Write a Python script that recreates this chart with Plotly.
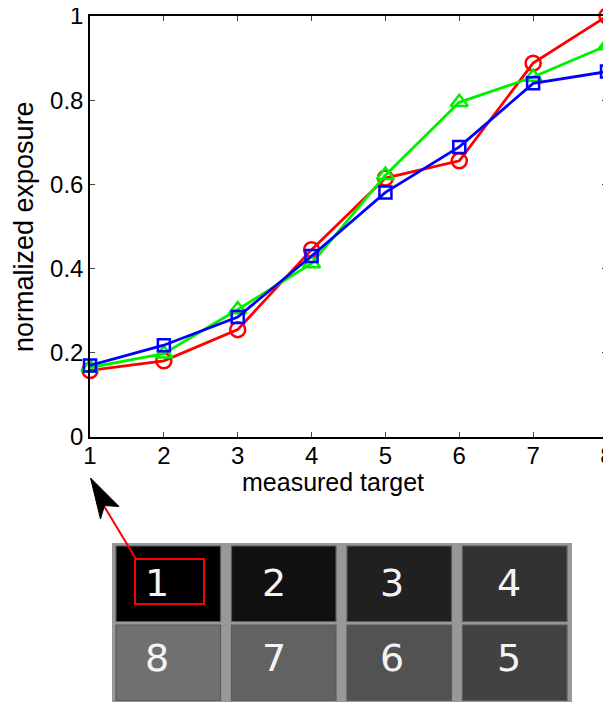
import plotly.graph_objects as go

# ---------------- data ----------------
targets = [1, 2, 3, 4, 5, 6, 7, 8]
series_red = [0.158, 0.181, 0.255, 0.445, 0.615, 0.656, 0.888, 1.0]
series_green = [0.165, 0.198, 0.303, 0.412, 0.622, 0.795, 0.855, 0.930]
series_blue = [0.170, 0.218, 0.285, 0.430, 0.581, 0.689, 0.840, 0.868]
y_ticks = [0, 0.2, 0.4, 0.6, 0.8, 1]
y_tick_labels = ["0", "0.2", "0.4", "0.6", "0.8", "1"]

# tile illustration: labels and gray levels (row 1 then row 2)
tile_labels_top = ["1", "2", "3", "4"]
tile_labels_bottom = ["8", "7", "6", "5"]
tile_gray_top = [0, 16, 32, 50]
tile_gray_bottom = [112, 98, 82, 66]

# page body has an 8px margin; figure sized so it fits the window
OFF = 8
W, H = 611 - OFF, 702 - OFF
L, T = 90 - OFF, 16 - OFF
PW, PH = 517, 421
R = W - L - PW
B = H - T - PH


def px(x):
    """reference-window pixel x -> paper coordinate"""
    return (x - OFF - L) / PW


def py(y):
    """reference-window pixel y -> paper coordinate"""
    return (T + PH - (y - OFF)) / PH


FONT = "Liberation Sans, Arial, Helvetica, sans-serif"

fig = go.Figure()
for name, vals, col, sym, ms in [
    ("red", series_red, "#ff0000", "circle-open", 15),
    ("green", series_green, "#00f000", "triangle-up-open", 15),
    ("blue", series_blue, "#0000ff", "square-open", 12),
]:
    fig.add_trace(go.Scatter(
        x=targets, y=vals, mode="lines+markers", name=name,
        line=dict(color=col, width=2.8),
        marker=dict(symbol=sym, size=ms, color=col, line=dict(width=2.5, color=col)),
        cliponaxis=False, showlegend=False,
    ))

fig.update_xaxes(
    range=[1, 8], tickvals=targets, ticktext=[str(t) for t in targets],
    showgrid=False, zeroline=False, showline=True, linecolor="black", linewidth=1.5,
    mirror="ticks", ticks="inside", ticklen=5, tickwidth=1, tickcolor="#444",
    tickfont=dict(family=FONT, size=24, color="black"), ticklabelstandoff=-4,
    automargin=False, ticklabeloverflow="allow",
)
fig.update_yaxes(
    range=[0, 1], tickvals=y_ticks, ticktext=y_tick_labels,
    showgrid=False, zeroline=False, showline=True, linecolor="black", linewidth=1.5,
    mirror="ticks", ticks="inside", ticklen=5, tickwidth=1, tickcolor="#444",
    tickfont=dict(family=FONT, size=24, color="black"), ticklabelstandoff=0,
    automargin=False, ticklabeloverflow="allow",
)

annotations = [
    dict(text="measured target", x=px(333), y=py(482), xref="paper", yref="paper",
         showarrow=False, xanchor="center", yanchor="middle",
         font=dict(family=FONT, size=25, color="black")),
    dict(text="normalized exposure", x=px(24), y=py(227), xref="paper", yref="paper",
         showarrow=False, xanchor="center", yanchor="middle", textangle=-90,
         font=dict(family=FONT, size=27, color="black")),
]

shapes = []
# gray background panel
shapes.append(dict(type="rect", xref="paper", yref="paper",
                   x0=px(112), x1=px(572), y0=py(543), y1=py(710),
                   fillcolor="#989898", line=dict(width=0), layer="above"))

col_x0 = [116, 231.5, 347, 462.5]
tile_w = 104.5
row_y0 = [546, 625]
tile_h = 75.5
label_dx = [156.5, 274, 391.5, 508.5]
label_y = [583, 658]

for r, (labels, grays) in enumerate([(tile_labels_top, tile_gray_top),
                                     (tile_labels_bottom, tile_gray_bottom)]):
    for c, (lab, g) in enumerate(zip(labels, grays)):
        shapes.append(dict(type="rect", xref="paper", yref="paper",
                           x0=px(col_x0[c]), x1=px(col_x0[c] + tile_w),
                           y0=py(row_y0[r]), y1=py(row_y0[r] + tile_h),
                           fillcolor=f"rgb({g},{g},{g})",
                           line=dict(width=1.2, color="#5a5a5a"), layer="above"))
        annotations.append(dict(text=lab, x=px(label_dx[c]), y=py(label_y[r]),
                                xref="paper", yref="paper", showarrow=False,
                                xanchor="center", yanchor="middle",
                                font=dict(family="DejaVu Sans, sans-serif", size=38,
                                          color="#f4f4f4")))

# red highlight box around tile 1 label
shapes.append(dict(type="rect", xref="paper", yref="paper",
                   x0=px(135), x1=px(204), y0=py(559), y1=py(604),
                   line=dict(color="#ff0000", width=2), layer="above"))
# red connector line
shapes.append(dict(type="line", xref="paper", yref="paper",
                   x0=px(136), y0=py(559), x1=px(104), y1=py(506),
                   line=dict(color="#ff0000", width=2), layer="above"))
# black arrowhead
path = (f"M {px(90.5)} {py(478)} L {px(100.5)} {py(519)} L {px(104.5)} {py(505.5)} "
        f"L {px(119)} {py(506.5)} Z")
shapes.append(dict(type="path", xref="paper", yref="paper", path=path,
                   fillcolor="black", line=dict(color="black", width=1), layer="above"))

fig.update_layout(
    width=W, height=H,
    margin=dict(l=L, r=R, t=T, b=B, pad=0, autoexpand=False),
    paper_bgcolor="white", plot_bgcolor="white",
    annotations=annotations, shapes=shapes,
    font=dict(family=FONT),
)

fig.write_html("out.html")
